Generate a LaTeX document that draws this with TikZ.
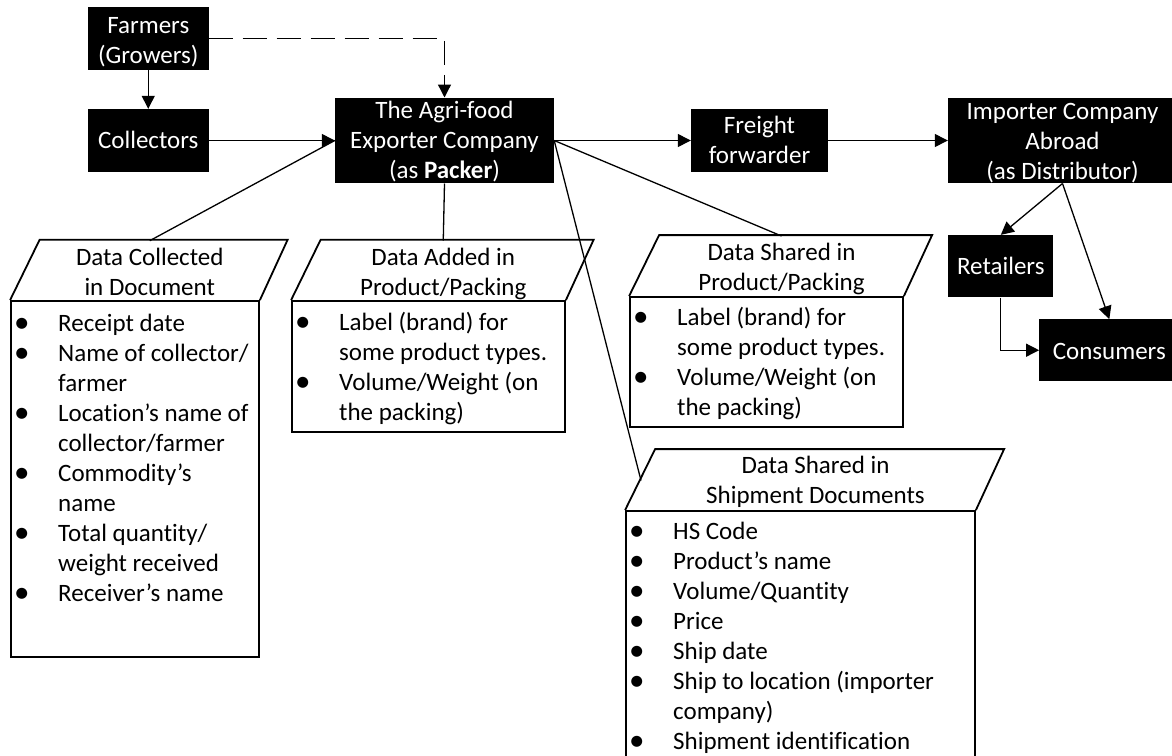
\documentclass[tikz,border=0pt]{standalone}
\usepackage{fontspec}
\setmainfont{Carlito}[Ligatures={NoCommon}]
\usetikzlibrary{arrows.meta}
\newcommand\bfnt{\fontsize{25}{30}\selectfont}
\newcommand\bul{\makebox[47pt][l]{\hspace{3pt}\raisebox{-1.2pt}{\fontsize{31}{30}\selectfont\textbullet}}}
\newcommand\ind{\hspace*{47pt}}
\newcommand\ctab[1]{\begin{tabular}[t]{@{}c@{}}#1\end{tabular}}
\newcommand\ltab[1]{\begin{tabular}[t]{@{}l@{}}#1\end{tabular}}
\tikzset{
  blk/.style={fill=black, draw=none, inner sep=0pt},
  wt/.style={text=white, inner sep=0pt, anchor=base, font=\bfnt},
  bt/.style={text=black, inner sep=0pt, anchor=base, font=\bfnt},
  lt/.style={text=black, inner sep=0pt, anchor=base west, font=\bfnt},
  dbox/.style={draw=black, line width=1.8pt, inner sep=0pt},
  bline/.style={draw=black, line width=1.8pt, line join=miter},
  ln/.style={line width=1.3pt},
  arr/.style={line width=1.3pt, -{Triangle[length=13pt,width=13pt]}},
  dsh/.style={dash pattern=on 24pt off 10pt},
}
\begin{document}
\begin{tikzpicture}[x=1pt, y=-1pt]
\useasboundingbox (0,0) rectangle (1172,755);
\clip (0,0) rectangle (1172,755);
\fill[white] (0,0) rectangle (1172,755);

% black boxes
\node[blk, minimum width=120.5pt, minimum height=63pt] (farmers) at (148.25,38.7) {};
\node[wt] (farmerst) at (148.25,33) {\ctab{Farmers\\(Growers)}};
\node[blk, minimum width=120.5pt, minimum height=63pt] (collectors) at (148.25,140.5) {};
\node[wt] (collectorst) at (148.25,148.3) {Collectors};
\node[blk, minimum width=219pt, minimum height=85.6pt] (agri) at (444.5,140.5) {};
\node[wt] (agrit) at (444.5,118.5) {\ctab{The Agri-food\\Exporter Company\\(as \textbf{Packer})}};
\node[blk, minimum width=137pt, minimum height=62.4pt] (freight) at (759.5,140.5) {};
\node[wt] (freightt) at (759.5,133.3) {\ctab{Freight\\forwarder}};
\node[blk, minimum width=229pt, minimum height=85.6pt] (importer) at (1062.5,140.5) {};
\node[wt] (importert) at (1062.5,119) {\ctab{Importer Company\\Abroad\\(as Distributor)}};
\node[blk, minimum width=105pt, minimum height=62.3pt] (retailers) at (1000.8,266.2) {};
\node[wt] (retailerst) at (1000.8,274.3) {Retailers};
\node[blk, minimum width=140pt, minimum height=61.7pt] (consumers) at (1109.3,350.2) {};
\node[wt] (consumerst) at (1109.3,359.3) {Consumers};

% data boxes
\node[dbox, minimum width=248pt, minimum height=355.7pt] (dcrect) at (135,478.85) {};
\draw[bline] (dcrect.north west) -- ++(29.5,-60.3) -- ++(248,0) -- (dcrect.north east);
\coordinate (dctop) at (149.75,240.7);
\node[bt] (dctitle) at (149.75,265) {\ctab{Data Collected\\in Document}};
\node[lt] (dclist) at (11,331) {\ltab{\bul Receipt date\\ \bul Name of collector/\\ \ind farmer\\ \bul Location’s name of\\ \ind collector/farmer\\ \bul Commodity’s\\ \ind name\\ \bul Total quantity/\\ \ind weight received\\ \bul Receiver’s name}};

\node[dbox, minimum width=273pt, minimum height=130.7pt] (darect) at (428.5,366.35) {};
\draw[bline] (darect.north west) -- ++(29.5,-60.3) -- ++(273,0) -- (darect.north east);
\coordinate (datop) at (443.25,240.7);
\node[bt] (datitle) at (443.25,265) {\ctab{Data Added in\\Product/Packing}};
\node[lt] (dalist) at (292,330) {\ltab{\bul Label (brand) for\\ \ind some product types.\\ \bul Volume/Weight (on\\ \ind the packing)}};

\node[dbox, minimum width=273pt, minimum height=130pt] (dsrect) at (766.5,362) {};
\draw[bline] (dsrect.north west) -- ++(30,-61) -- ++(273,0) -- (dsrect.north east);
\coordinate (dstop) at (781.5,236);
\node[bt] (dstitle) at (781.5,260) {\ctab{Data Shared in\\Product/Packing}};
\node[lt] (dslist) at (630,325) {\ltab{\bul Label (brand) for\\ \ind some product types.\\ \bul Volume/Weight (on\\ \ind the packing)}};

\node[dbox, minimum width=349pt, minimum height=289pt] (shrect) at (800.5,655.5) {};
\draw[bline] (shrect.north west) -- ++(30,-61) -- ++(349,0) -- (shrect.north east);
\coordinate (shleft) at (641,480.5);
\node[bt] (shtitle) at (815.5,473) {\ctab{Data Shared in\\Shipment Documents}};
\node[lt] (shlist) at (626,539) {\ltab{\bul HS Code\\ \bul Product’s name\\ \bul Volume/Quantity\\ \bul Price\\ \bul Ship date\\ \bul Ship to location (importer\\ \ind company)\\ \bul Shipment identification}};

% connectors
\draw[arr] (farmers.south) -- (collectors.north);
\draw[arr, dsh] (farmers.east) -| (agri.north);
\draw[arr] (collectors.east) -- (agri.west);
\draw[arr] (agri.east) -- (freight.west);
\draw[arr] (freight.east) -- (importer.west);
\draw[arr] (importer.south) -- (retailers.north);
\draw[arr] (importer.south) -- (consumers.north);
\draw[arr] (retailers.south) |- (consumers.west);
\draw[ln] (agri.west) -- (dctop);
\draw[ln] (agri.south) -- (datop);
\draw[ln] (agri.east) -- (dstop);
\draw[ln] (agri.east) -- (shleft);
\end{tikzpicture}
\end{document}
